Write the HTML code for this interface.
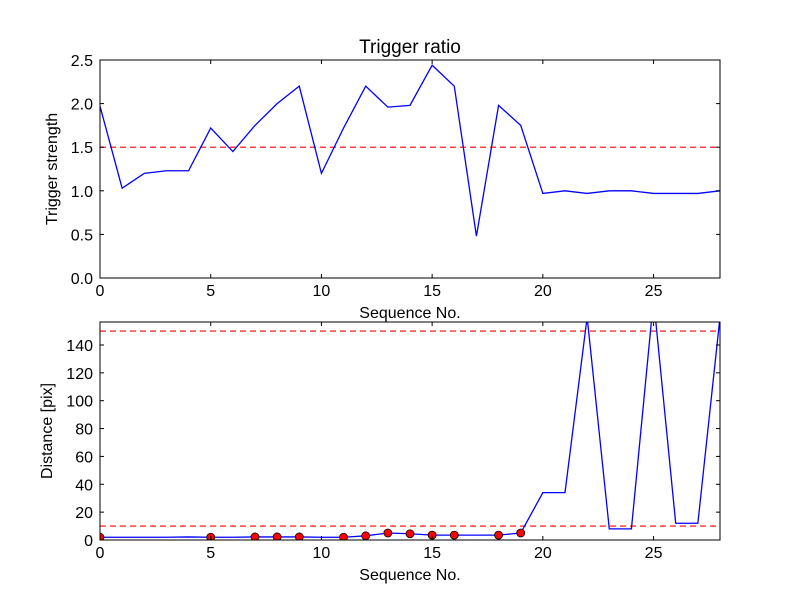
<!DOCTYPE html>
<html><head><meta charset="utf-8"><style>
body{margin:0;background:#fff;}
svg{font-family:"Liberation Sans","DejaVu Sans",sans-serif;}
</style></head><body>
<svg id="fig" width="800" height="600" xmlns="http://www.w3.org/2000/svg">
<rect width="800" height="600" fill="#fff"/>
<defs>
<clipPath id="c1"><rect x="100" y="60" width="620" height="218"/></clipPath>
<clipPath id="c2"><rect x="100" y="322" width="620" height="218"/></clipPath>
</defs>
<g id="g"></g>
</svg>
<script>
const seqTop = [0,1,2,3,4,5,6,7,8,9,10,11,12,13,14,15,16,17,18,19,20,21,22,23,24,25,26,27,28];
const ratioValues = [1.97,1.03,1.2,1.23,1.23,1.72,1.45,1.75,2.0,2.2,1.2,1.72,2.2,1.96,1.98,2.44,2.2,0.48,1.98,1.75,0.97,1.0,0.97,1.0,1.0,0.97,0.97,0.97,1.0];
const ratioThreshold = 1.5;
const distValues = [2,2,2,2,2.2,2,2,2.2,2.2,2.2,2,2,3,5,4.5,3.5,3.5,3.5,3.5,5,34,34,160,8,8,173,12,12,160];
const markerSeq = [0,5,7,8,9,11,12,13,14,15,16,18,19];
const distThresholds = [10,150];
const topTicks = [0,0.5,1.0,1.5,2.0,2.5];
const botTicks = [0,20,40,60,80,100,120,140];
const xTicks = [0,5,10,15,20,25];

const NS="http://www.w3.org/2000/svg";
const g=document.getElementById('g');
function el(t,a,txt){const e=document.createElementNS(NS,t);for(const k in a)e.setAttribute(k,a[k]);if(txt!==undefined)e.textContent=txt;g.appendChild(e);return e;}
const X=v=>100+v*620/28;
const Y1=v=>278-v*218/2.5;
const Y2=v=>540-v*218/156.5;

function axes(top,Y,yt,fmt,ylabel,yname){
  const b=top+218;
  for(const t of xTicks){
    const l1=el('line',{x1:X(t),x2:X(t),y1:b,y2:b-4,stroke:'#000'});
    
    
    el('line',{x1:X(t),x2:X(t),y1:top,y2:top+4,stroke:'#000'});
    const tx=el('text',{x:X(t),y:b+18,'font-size':16,'text-anchor':'middle'},t);
    
    
  }
  for(const t of yt){
    el('line',{x1:100,x2:104,y1:Y(t),y2:Y(t),stroke:'#000'});
    el('line',{x1:720,x2:716,y1:Y(t),y2:Y(t),stroke:'#000'});
    const tx=el('text',{x:93,y:Y(t)+6,'font-size':16,'text-anchor':'end'},fmt(t));
    
    
  }
  const xl=el('text',{x:410,y:b+40,'font-size':16,'text-anchor':'middle'},'Sequence No.');
  
  
  const yl=el('text',{x:0,y:0,'font-size':16,'text-anchor':'middle',transform:`translate(${yname==='top'?57:52},${top+109}) rotate(-90)`},ylabel);
  
  
}

// top chart
const t1=el('text',{x:410,y:53,'font-size':19,'text-anchor':'middle'},'Trigger ratio');


const th1=el('line',{x1:100,x2:720,y1:Y1(ratioThreshold),y2:Y1(ratioThreshold),stroke:'red','stroke-width':1.2,'stroke-dasharray':'6,4'});


const p1=el('polyline',{points:seqTop.map((s,i)=>X(s)+','+Y1(ratioValues[i])).join(' '),fill:'none',stroke:'blue','stroke-width':1.3,'clip-path':'url(#c1)'});


const f1=el('rect',{x:100,y:60,width:620,height:218,fill:'none',stroke:'#000'});


axes(60,Y1,topTicks,t=>t.toFixed(1),'Trigger strength','top');

// bottom chart
for(const d of distThresholds){
  const l=el('line',{x1:100,x2:720,y1:Y2(d),y2:Y2(d),stroke:'red','stroke-width':1.2,'stroke-dasharray':'6,4'});
  
  
}
const p2=el('polyline',{points:seqTop.map((s,i)=>X(s)+','+Y2(distValues[i])).join(' '),fill:'none',stroke:'blue','stroke-width':1.3,'clip-path':'url(#c2)'});


for(const s of markerSeq){
  const c=el('circle',{cx:X(s),cy:Y2(distValues[seqTop.indexOf(s)]),r:4,fill:'red',stroke:'#000','stroke-width':0.8,'clip-path':'url(#c2)'});
  
  
}
const f2=el('rect',{x:100,y:322,width:620,height:218,fill:'none',stroke:'#000'});


axes(322,Y2,botTicks,t=>String(t),'Distance [pix]','bot');
</script>
</body></html>
